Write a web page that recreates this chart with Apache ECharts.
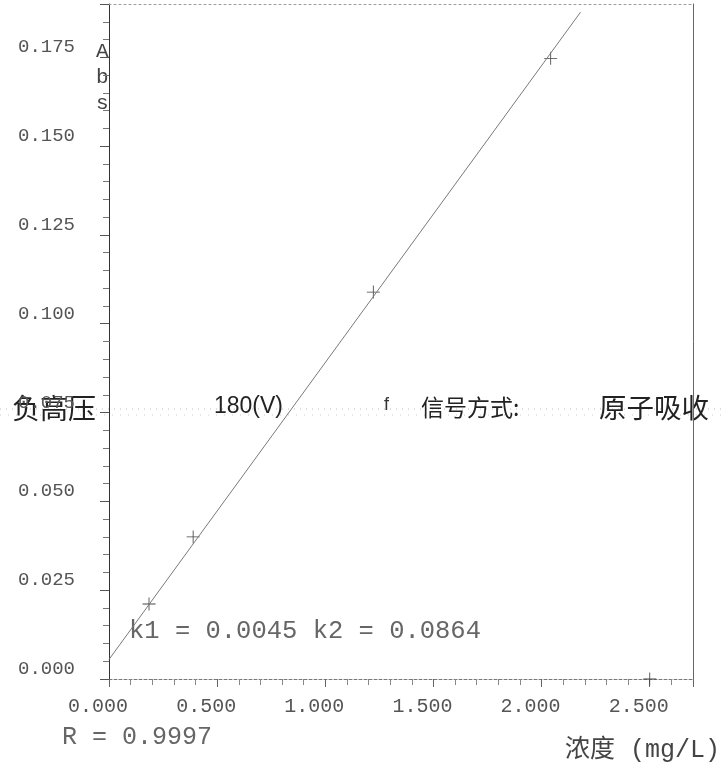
<!DOCTYPE html>
<html>
<head>
<meta charset="utf-8">
<script src="https://cdn.jsdelivr.net/npm/echarts@6/dist/echarts.min.js"></script>
<style>
html,body{margin:0;padding:0;background:#fff;}
#chart{width:723px;height:774px;}
</style>
</head>
<body>
<div id="chart"></div>
<script>
// Data
var concentration = [0.185, 0.389, 1.222, 2.042, 2.5];
var absorbance = [0.0211, 0.0400, 0.1089, 0.1747, 0.0];
var fitLineX = [0, 2.18];
var fitLineY = [0.0055, 0.1877];
var xTicks = [0, 0.5, 1.0, 1.5, 2.0, 2.5];
var yTicks = [0, 0.025, 0.05, 0.075, 0.1, 0.125, 0.15, 0.175];
var fitText = 'k1 = 0.0045 k2 = 0.0864';
var rText = 'R = 0.9997';
var xTitle = '浓度 (mg/L)';
var yTitle = ['A', 'b', 's'];
var overlayTexts = ['负高压', '180(V)', 'f', '信号方式:', '原子吸收'];

var mono = '"Liberation Mono", "DejaVu Sans Mono", monospace';
var cjk = '"Noto Sans CJK SC", "Liberation Sans", sans-serif';

var chart = echarts.init(document.getElementById('chart'), null, {renderer: 'canvas'});

var scatterData = concentration.map(function (c, i) { return [c, absorbance[i]]; });
var lineData = fitLineX.map(function (x, i) { return [x, fitLineY[i]]; });

var plusPath = 'path://M-0.45,-7 L0.45,-7 L0.45,-0.45 L7,-0.45 L7,0.45 L0.45,0.45 L0.45,7 L-0.45,7 L-0.45,0.45 L-7,0.45 L-7,-0.45 L-0.45,-0.45 Z';

var option = {
  backgroundColor: '#ffffff',
  animation: false,
  grid: {left: 109, right: 30, top: 4, bottom: 95, containLabel: false},
  xAxis: [{
    type: 'value', position: 'bottom', min: 0, max: 2.7, interval: 0.5,
    axisLine: {show: true, lineStyle: {color: '#777', width: 1, type: [3, 2]}},
    axisTick: {show: true, inside: false, length: 8, lineStyle: {color: '#666'}},
    minorTick: {show: true, splitNumber: 5, length: 6, lineStyle: {color: '#888'}},
    splitLine: {show: false},
    axisLabel: {
      showMaxLabel: false, margin: 18, color: '#555', fontFamily: mono, fontSize: 20,
      padding: [0, 22, 0, 0],
      formatter: function (v) { return xTicks.indexOf(+v.toFixed(3)) >= 0 ? v.toFixed(3) : ''; }
    }
  }, {
    type: 'value', position: 'top', min: 0, max: 2.7,
    axisLine: {show: true, onZero: false, lineStyle: {color: '#999', width: 1, type: [2, 3]}},
    axisTick: {show: false}, axisLabel: {show: false}, splitLine: {show: false}
  }],
  yAxis: [{
    type: 'value', position: 'left', min: 0, max: 0.19, interval: 0.025,
    axisLine: {show: true, lineStyle: {color: '#333', width: 1}},
    axisTick: {show: true, inside: false, length: 9, lineStyle: {color: '#555'}},
    minorTick: {show: true, splitNumber: 5, length: 6, lineStyle: {color: '#777'}},
    splitLine: {show: false},
    axisLabel: {
      showMaxLabel: false, margin: 34, color: '#555', fontFamily: mono, fontSize: 19,
      verticalAlign: 'bottom', lineHeight: 20,
      formatter: function (v) { return yTicks.indexOf(+v.toFixed(3)) >= 0 ? v.toFixed(3) : ''; }
    }
  }, {
    type: 'value', position: 'right', min: 0, max: 0.19,
    axisLine: {show: true, onZero: false, lineStyle: {color: '#666', width: 1}},
    axisTick: {show: false}, axisLabel: {show: false}, splitLine: {show: false}
  }],
  series: [{
    type: 'line', xAxisIndex: 0, yAxisIndex: 0, data: lineData,
    showSymbol: false, symbol: 'none',
    lineStyle: {color: '#7a7a7a', width: 1}
  }, {
    type: 'scatter', xAxisIndex: 0, yAxisIndex: 0, data: scatterData,
    symbol: plusPath, symbolSize: 13,
    itemStyle: {color: '#444', opacity: 1}
  }],
  graphic: [
    {type: 'text', left: 96, top: 41, style: {text: yTitle[0], font: '21px ' + mono, fill: '#444'}},
    {type: 'text', left: 96, top: 67, style: {text: yTitle[1], font: '21px ' + mono, fill: '#444'}},
    {type: 'text', left: 96, top: 93, style: {text: yTitle[2], font: '21px ' + mono, fill: '#444'}},
    {type: 'text', left: 129, top: 618, style: {text: fitText, font: '25.5px ' + mono, fill: '#666'}},
    {type: 'text', left: 62, top: 725, style: {text: rText, font: '25px ' + mono, fill: '#666'}},
    {type: 'text', right: 3, top: 738, style: {text: xTitle, font: '25px ' + mono.replace('monospace', '"Noto Sans CJK SC", monospace'), fill: '#444'}},
    {type: 'line', shape: {x1: 0, y1: 409, x2: 723, y2: 409}, style: {stroke: '#bbb', lineWidth: 1, lineDash: [1, 5]}},
    {type: 'line', shape: {x1: 0, y1: 415, x2: 723, y2: 415}, style: {stroke: '#ccc', lineWidth: 1, lineDash: [1, 7]}},
    {type: 'text', left: 12, top: 394, style: {text: overlayTexts[0], font: '28px ' + cjk, fill: '#222'}},
    {type: 'text', left: 214, top: 395, style: {text: overlayTexts[1], font: '23px "Liberation Sans Narrow", "Liberation Sans", sans-serif', fill: '#222'}},
    {type: 'text', left: 384, top: 396, style: {text: overlayTexts[2], font: '18px "Liberation Sans", sans-serif', fill: '#333'}},
    {type: 'text', left: 421, top: 396, style: {text: overlayTexts[3], font: '23px ' + cjk, fill: '#222'}},
    {type: 'text', left: 599, top: 394, style: {text: overlayTexts[4], font: '27.5px ' + cjk, fill: '#222'}}
  ]
};
chart.setOption(option);
</script>
</body>
</html>
